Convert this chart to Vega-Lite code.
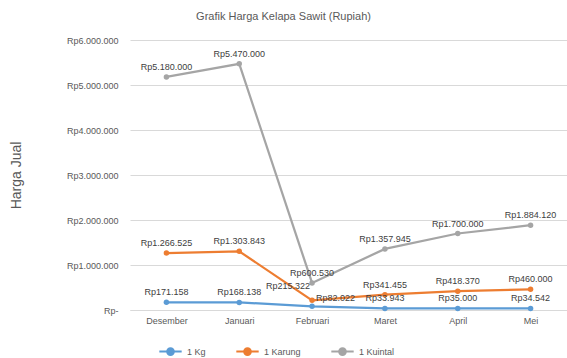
{
  "$schema": "https://vega.github.io/schema/vega-lite/v6.json",
  "autosize": "none",
  "width": 437,
  "height": 270,
  "padding": {"left": 130, "top": 40, "right": 0, "bottom": 48},
  "background": "#ffffff",
  "title": {
    "text": "Grafik Harga Kelapa Sawit (Rupiah)",
    "fontSize": 11,
    "fontWeight": "normal",
    "color": "#595959",
    "font": "Liberation Sans",
    "anchor": "middle",
    "dx": -65,
    "offset": 14
  },
  "data": {
    "values": [
      {"bulan": "Desember", "satuan": "1 Kg", "harga": 171158},
      {"bulan": "Januari", "satuan": "1 Kg", "harga": 168138},
      {"bulan": "Februari", "satuan": "1 Kg", "harga": 82022},
      {"bulan": "Maret", "satuan": "1 Kg", "harga": 33943},
      {"bulan": "April", "satuan": "1 Kg", "harga": 35000},
      {"bulan": "Mei", "satuan": "1 Kg", "harga": 34542},
      {"bulan": "Desember", "satuan": "1 Karung", "harga": 1266525},
      {"bulan": "Januari", "satuan": "1 Karung", "harga": 1303843},
      {"bulan": "Februari", "satuan": "1 Karung", "harga": 215322},
      {"bulan": "Maret", "satuan": "1 Karung", "harga": 341455},
      {"bulan": "April", "satuan": "1 Karung", "harga": 418370},
      {"bulan": "Mei", "satuan": "1 Karung", "harga": 460000},
      {"bulan": "Desember", "satuan": "1 Kuintal", "harga": 5180000},
      {"bulan": "Januari", "satuan": "1 Kuintal", "harga": 5470000},
      {"bulan": "Februari", "satuan": "1 Kuintal", "harga": 600530},
      {"bulan": "Maret", "satuan": "1 Kuintal", "harga": 1357945},
      {"bulan": "April", "satuan": "1 Kuintal", "harga": 1700000},
      {"bulan": "Mei", "satuan": "1 Kuintal", "harga": 1884120}
    ]
  },
  "encoding": {
    "x": {
      "field": "bulan",
      "type": "ordinal",
      "sort": ["Desember", "Januari", "Februari", "Maret", "April", "Mei"],
      "scale": {"type": "point", "padding": 0.5},
      "axis": {
        "title": null,
        "labelAngle": 0,
        "labelFontSize": 9,
        "labelColor": "#595959",
        "labelFont": "Liberation Sans",
        "labelPadding": 6,
        "ticks": false,
        "domainColor": "#d9d9d9",
        "grid": false
      }
    },
    "y": {
      "field": "harga",
      "type": "quantitative",
      "scale": {"domain": [0, 6000000], "nice": false},
      "axis": {
        "title": "Harga Jual",
        "titleFontSize": 14,
        "titleFontWeight": "normal",
        "titleColor": "#595959",
        "titleFont": "Liberation Sans",
        "titleX": -114,
        "titleY": 135,
        "titleAlign": "center",
        "titleBaseline": "middle",
        "values": [0, 1000000, 2000000, 3000000, 4000000, 5000000, 6000000],
        "format": "$,.0f",
        "labelExpr": "datum.value === 0 ? 'Rp-' : datum.label",
        "labelFontSize": 9,
        "labelColor": "#595959",
        "labelFont": "Liberation Sans",
        "labelPadding": 12,
        "ticks": false,
        "domain": false,
        "gridColor": "#d9d9d9",
        "gridWidth": 1
      }
    },
    "color": {
      "field": "satuan",
      "type": "nominal",
      "sort": ["1 Kg", "1 Karung", "1 Kuintal"],
      "scale": {"range": ["#5b9bd5", "#ed7d31", "#a5a5a5"]},
      "legend": {
        "title": null,
        "orient": "none",
        "direction": "horizontal",
        "legendX": 28,
        "legendY": 299,
        "labelFontSize": 9,
        "labelColor": "#595959",
        "labelFont": "Liberation Sans",
        "symbolType": "M-1,0H1M-0.3,0A0.3,0.3 0 1,1 0.3,0A0.3,0.3 0 1,1 -0.3,0",
        "symbolSize": 500,
        "symbolStrokeWidth": 2,
        "columnPadding": 26
      }
    }
  },
  "layer": [
    {
      "mark": {"type": "line", "strokeWidth": 2.25, "point": {"size": 30, "filled": true}}
    },
    {
      "transform": [{"filter": "datum.bulan !== 'Februari' || datum.satuan === '1 Kuintal'"}],
      "mark": {
        "type": "text",
        "baseline": "bottom",
        "dy": -5,
        "fontSize": 9,
        "font": "Liberation Sans",
        "color": "#404040"
      },
      "encoding": {
        "text": {"field": "harga", "type": "quantitative", "format": "$,.0f"},
        "color": {"value": "#404040"}
      }
    },
    {
      "transform": [{"filter": "datum.bulan === 'Februari' && datum.satuan === '1 Karung'"}],
      "mark": {
        "type": "text",
        "align": "right",
        "baseline": "bottom",
        "dx": -2,
        "dy": -9,
        "fontSize": 9,
        "font": "Liberation Sans",
        "color": "#404040"
      },
      "encoding": {
        "text": {"field": "harga", "type": "quantitative", "format": "$,.0f"},
        "color": {"value": "#404040"}
      }
    },
    {
      "transform": [{"filter": "datum.bulan === 'Februari' && datum.satuan === '1 Kg'"}],
      "mark": {
        "type": "text",
        "align": "left",
        "baseline": "bottom",
        "dx": 4,
        "dy": -3,
        "fontSize": 9,
        "font": "Liberation Sans",
        "color": "#404040"
      },
      "encoding": {
        "text": {"field": "harga", "type": "quantitative", "format": "$,.0f"},
        "color": {"value": "#404040"}
      }
    }
  ],
  "config": {
    "view": {"stroke": null},
    "locale": {
      "number": {
        "decimal": ",",
        "thousands": ".",
        "grouping": [3],
        "currency": ["Rp", ""]
      }
    }
  }
}
